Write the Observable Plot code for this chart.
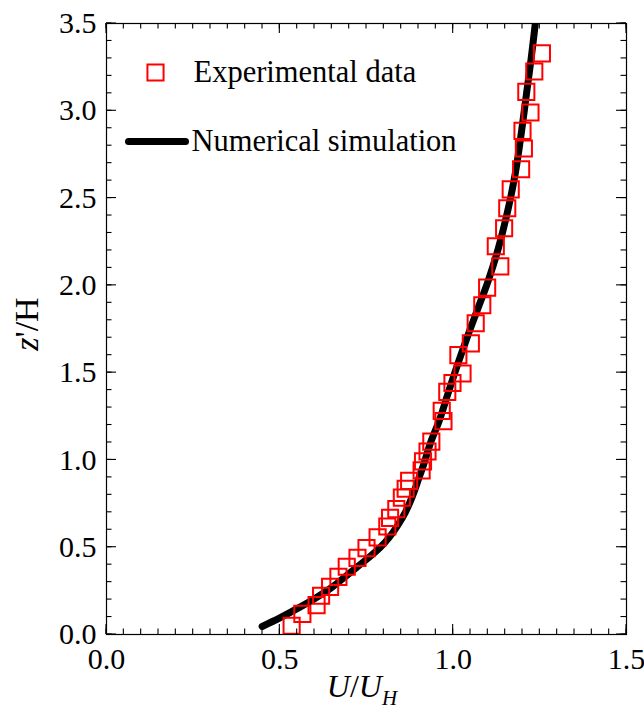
<!DOCTYPE html>
<html><head><meta charset="utf-8">
<script src="https://cdn.jsdelivr.net/npm/d3@7"></script>
<script src="https://cdn.jsdelivr.net/npm/@observablehq/plot@0.6"></script>
<style>
body{margin:0;background:#fff;}
#chart{width:644px;height:710px;}
</style></head><body><div id="chart"></div>
<script>
// Experimental data (U/U_H, z'/H)
const expU = [0.534,0.565,0.606,0.619,0.645,0.669,0.693,0.724,0.750,0.782,0.810,0.818,0.836,0.852,0.863,0.873,0.909,0.913,0.926,0.937,0.972,0.967,0.983,0.998,1.027,1.015,1.051,1.065,1.084,1.098,1.136,1.123,1.147,1.156,1.166,1.196,1.204,1.200,1.223,1.211,1.234,1.256];
const expZ = [0.050,0.118,0.168,0.222,0.273,0.330,0.388,0.439,0.495,0.556,0.619,0.668,0.718,0.784,0.835,0.880,0.940,0.992,1.048,1.105,1.222,1.281,1.390,1.441,1.495,1.600,1.668,1.783,1.886,1.987,2.109,2.224,2.327,2.442,2.550,2.665,2.784,2.885,2.990,3.108,3.225,3.329];
// Numerical simulation
const simU = [0.449,0.50,0.55,0.60,0.65,0.70,0.75,0.79,0.815,0.84,0.862,0.882,0.90,0.915,0.935,0.96,0.985,1.01,1.04,1.07,1.10,1.13,1.16,1.18,1.195,1.213,1.225,1.237];
const simZ = [0.046,0.095,0.148,0.205,0.27,0.35,0.43,0.50,0.555,0.625,0.70,0.79,0.89,0.975,1.10,1.226,1.38,1.53,1.70,1.86,2.02,2.21,2.45,2.65,2.85,3.12,3.30,3.50];
// Ticks
const xMajor = [0.0,0.5,1.0,1.5];
const yMajor = [0.0,0.5,1.0,1.5,2.0,2.5,3.0,3.5];
const xMinor = [0,0.05,0.1,0.15,0.2,0.25,0.3,0.35,0.4,0.45,0.5,0.55,0.6,0.65,0.7,0.75,0.8,0.85,0.9,0.95,1.0,1.05,1.1,1.15,1.2,1.25,1.3,1.35,1.4,1.45,1.5];
const yMinor = [0,0.1,0.2,0.3,0.4,0.5,0.6,0.7,0.8,0.9,1.0,1.1,1.2,1.3,1.4,1.5,1.6,1.7,1.8,1.9,2.0,2.1,2.2,2.3,2.4,2.5,2.6,2.7,2.8,2.9,3.0,3.1,3.2,3.3,3.4,3.5];
const legendLabels = ["Experimental data","Numerical simulation"];

(function(){
const exp = expU.map((u,i)=>({u, z: expZ[i]}));
const sim = simU.map((u,i)=>({u, z: simZ[i]}));

const font = "'Liberation Serif', 'Times New Roman', serif";
const lineSym = {draw(ctx){ ctx.moveTo(-28.5,0); ctx.lineTo(28.5,0); }};
const MAJ = 10, MIN = 5.5;
const fmt = d => d.toFixed(1);
const W = 644, H = 710, ML = 106, MR = 18, MT = 23, MB = 76;

const chart = Plot.plot({
  width:W, height:H,
  marginLeft:ML, marginRight:MR, marginTop:MT, marginBottom:MB,
  style:{fontFamily:font, fontSize:"30px", background:"white", color:"black"},
  x:{domain:[0,1.5], ticks:xMajor, tickFormat:fmt, tickSize:0, tickPadding:13, label:null},
  y:{domain:[0,3.5], ticks:yMajor, tickFormat:fmt, tickSize:0, tickPadding:10, label:null},
  marks:[
    Plot.line(sim, {x:"u", y:"z", stroke:"black", strokeWidth:7, strokeLinecap:"round", strokeLinejoin:"round", curve:"catmull-rom", clip:true}),
    Plot.dot(exp, {x:"u", y:"z", symbol:"square", r:9.1, stroke:"#ff0000", strokeWidth:2, fill:"none"}),
    Plot.frame({stroke:"black", strokeWidth:1.2}),
    // legend
    Plot.dot([legendLabels[0]], {frameAnchor:"top-left", dx:49, dy:49, symbol:"square", r:9.1, stroke:"#ff0000", strokeWidth:2, fill:"none"}),
    Plot.text([legendLabels[0]], {frameAnchor:"top-left", dx:87, dy:49, text:d=>d, textAnchor:"start", lineAnchor:"middle", fontSize:30.5, fill:"black"}),
    Plot.dot([legendLabels[1]], {frameAnchor:"top-left", dx:50.5, dy:118, symbol:lineSym, stroke:"black", strokeWidth:7, strokeLinecap:"round"}),
    Plot.text([legendLabels[1]], {frameAnchor:"top-left", dx:85, dy:118, text:d=>d, textAnchor:"start", lineAnchor:"middle", fontSize:30.5, fill:"black"})
  ]
});

const svg = d3.select(chart);
const sx = chart.scale("x"), sy = chart.scale("y");
const fL = ML, fR = W - MR, fT = MT, fB = H - MB;
const tg = svg.append("g").attr("stroke","black").attr("stroke-width",1.1);
for (const [vals, len] of [[xMinor, MIN],[xMajor, MAJ]]) {
  for (const v of vals) {
    const px = sx.apply(v);
    tg.append("line").attr("x1",px).attr("x2",px).attr("y1",fB).attr("y2",fB-len);
    tg.append("line").attr("x1",px).attr("x2",px).attr("y1",fT).attr("y2",fT+len);
  }
}
for (const [vals, len] of [[yMinor, MIN],[yMajor, MAJ]]) {
  for (const v of vals) {
    const py = sy.apply(v);
    tg.append("line").attr("y1",py).attr("y2",py).attr("x1",fL).attr("x2",fL+len);
    tg.append("line").attr("y1",py).attr("y2",py).attr("x1",fR).attr("x2",fR-len);
  }
}
// x-axis title: U/U_H
const xt = svg.append("text").attr("x", 362).attr("y", 697).attr("text-anchor","middle")
  .attr("font-family", font).attr("font-size", 32).attr("fill","black");
xt.append("tspan").attr("font-style","italic").text("U");
xt.append("tspan").text("/");
xt.append("tspan").attr("font-style","italic").text("U");
xt.append("tspan").attr("font-style","italic").attr("font-size",21).attr("dy",8).text("H");
// y-axis title: z'/H
const yt = svg.append("text").attr("transform","translate(38,324) rotate(-90)").attr("text-anchor","middle")
  .attr("font-family", font).attr("font-size", 34).attr("fill","black");
yt.append("tspan").attr("font-style","italic").text("z");
yt.append("tspan").text("'/H");

document.getElementById("chart").appendChild(chart);
})();
</script></body></html>
